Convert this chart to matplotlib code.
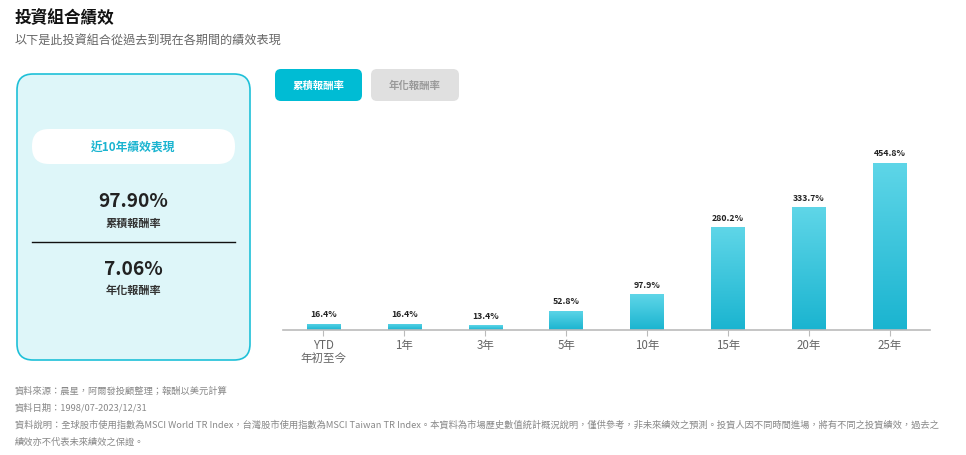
import numpy as np
import matplotlib.pyplot as plt
from matplotlib.patches import FancyBboxPatch
from matplotlib.colors import LinearSegmentedColormap

plt.rcParams['font.family'] = ['Noto Sans CJK TC', 'DejaVu Sans']

# datos
categorias = ['YTD\n年初至今', '1年', '3年', '5年', '10年', '15年', '20年', '25年']
valores = [16.4, 16.4, 13.4, 52.8, 97.9, 280.2, 333.7, 454.8]
etiquetas = ['16.4%', '16.4%', '13.4%', '52.8%', '97.9%', '280.2%', '333.7%', '454.8%']
acumulado = '97.90%'
anualizado = '7.06%'
notas = [
    '資料來源：晨星，阿爾發投顧整理；報酬以美元計算',
    '資料日期：1998/07-2023/12/31',
    '資料說明：全球股市使用指數為MSCI World TR Index，台灣股市使用指數為MSCI Taiwan TR Index。本資料為市場歷史數值統計概況說明，僅供參考，非未來績效之預測。投資人因不同時間進場，將有不同之投資績效，過去之',
    '績效亦不代表未來績效之保證。',
]

W, H = 966, 456
fig = plt.figure(figsize=(W / 100, H / 100), dpi=100)
fig.patch.set_facecolor('white')

# capa para dibujar en pixeles
bg = fig.add_axes([0, 0, 1, 1])
bg.set_xlim(0, W)
bg.set_ylim(H, 0)
bg.axis('off')

cian = '#00bcd4'

# titulo
bg.text(15, 18, '投資組合績效', fontsize=12, fontweight='bold', color='#111111', va='center')
bg.text(15, 41, '以下是此投資組合從過去到現在各期間的績效表現', fontsize=8.7, color='#666666', va='center')

# tarjeta izquierda
bg.add_patch(FancyBboxPatch((17, 75), 233, 286, boxstyle='round,pad=0,rounding_size=16',
                            facecolor='#def6f9', edgecolor='#1ec0d8', linewidth=1.2))
bg.add_patch(FancyBboxPatch((32, 130), 203, 35, boxstyle='round,pad=0,rounding_size=17',
                            facecolor='white', edgecolor='none'))
bg.text(133.5, 148, '近10年績效表現', fontsize=8.5, fontweight='bold', color='#1ab4d0',
        ha='center', va='center')
bg.text(133.5, 202, acumulado, fontsize=13.8, fontweight='bold', color='#222222', ha='center', va='center')
bg.text(133.5, 223, '累積報酬率', fontsize=8, fontweight='bold', color='#333333', ha='center', va='center')
bg.plot([32, 235], [243, 243], color='#111111', lw=1)
bg.text(133.5, 270, anualizado, fontsize=13.8, fontweight='bold', color='#222222', ha='center', va='center')
bg.text(133.5, 290, '年化報酬率', fontsize=8, fontweight='bold', color='#333333', ha='center', va='center')

# botones
bg.add_patch(FancyBboxPatch((275, 70), 87, 32, boxstyle='round,pad=0,rounding_size=6',
                            facecolor=cian, edgecolor='none'))
bg.text(318.5, 86, '累積報酬率', fontsize=7.5, fontweight='bold', color='white', ha='center', va='center')
bg.add_patch(FancyBboxPatch((371, 70), 88, 32, boxstyle='round,pad=0,rounding_size=6',
                            facecolor='#e0e0e0', edgecolor='none'))
bg.text(415, 86, '年化報酬率', fontsize=7.5, fontweight='bold', color='#9a9a9a', ha='center', va='center')

# notas al pie
for i, n in enumerate(notas):
    bg.text(15, 391 + i * 17, n, fontsize=6.7, color='#888888', va='center')

# grafica de barras
ax = fig.add_axes([283 / W, 1 - 331 / H, 647 / W, 183.6 / H])
ax.set_xlim(-0.5, 7.5)
ax.set_ylim(0, 500)
x = np.arange(len(valores))
barras = ax.bar(x, valores, width=0.41, facecolor='none', edgecolor='none')

# degradado en cada barra
cmap = LinearSegmentedColormap.from_list('grad', ['#1ab4d0', '#5fd6e8'])
grad = np.linspace(0, 1, 256).reshape(-1, 1)
for b in barras:
    x0 = b.get_x()
    img = ax.imshow(grad, cmap=cmap, aspect='auto', origin='lower',
                    extent=[x0, x0 + b.get_width(), 0, b.get_height()])
    img.set_clip_path(b)

for xi, v, t in zip(x, valores, etiquetas):
    ax.text(xi, v + 500 * 0.03, t, ha='center', va='bottom', fontsize=6.3, fontweight='bold', color='#222222')

for s in ['top', 'right', 'left']:
    ax.spines[s].set_visible(False)
ax.spines['bottom'].set_color('#bbbbbb')
ax.spines['bottom'].set_linewidth(1.2)
ax.set_yticks([])
ax.set_xticks(x)
ax.set_xticklabels(categorias, fontsize=8.3, color='#666666', linespacing=0.95)
ax.tick_params(axis='x', length=4, color='#bbbbbb', pad=2)
ax.set_xlim(-0.5, 7.5)
ax.set_ylim(0, 500)

fig.savefig('out.png', dpi=100)
